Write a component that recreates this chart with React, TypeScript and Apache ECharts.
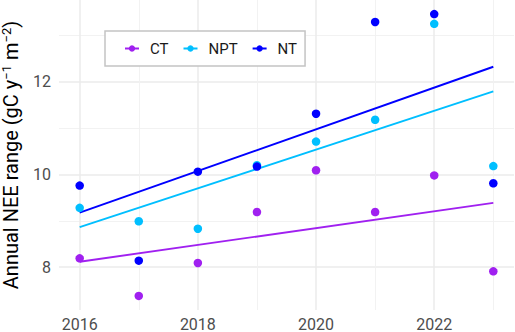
import React, { useEffect, useRef } from 'react';
import * as echarts from 'echarts';

const years = [2016, 2017, 2018, 2019, 2020, 2021, 2022, 2023];
const ctValues = [8.19, 7.38, 8.09, 9.19, 10.09, 9.19, 9.98, 7.91];
const nptValues = [9.28, 8.99, 8.83, 10.2, 10.71, 11.18, 13.25, 10.18];
const ntValues = [9.76, 8.14, 10.06, 10.17, 11.31, 13.29, 13.46, 9.81];
const seriesNames = ['CT', 'NPT', 'NT'];
const seriesColors = ['#A020F0', '#00BFFF', '#0000FF'];
const xMajorTicks = [2016, 2018, 2020, 2022];
const xMinorTicks = [2017, 2019, 2021, 2023];
const yMajorTicks = [8, 10, 12];
const yMinorTicks = [9, 11, 13];
const xLimits = [2015.65, 2023.35];
const yLimits = [7.076, 13.764];
const yTitle = 'Annual NEE range (gC y{sup|\u22121} m{sup|\u22122})';

function linearFit(xs: number[], ys: number[]): [number, number][] {
  const n = xs.length;
  const mx = xs.reduce((a, b) => a + b, 0) / n;
  const my = ys.reduce((a, b) => a + b, 0) / n;
  let sxy = 0;
  let sxx = 0;
  for (let i = 0; i < n; i++) {
    sxy += (xs[i] - mx) * (ys[i] - my);
    sxx += (xs[i] - mx) * (xs[i] - mx);
  }
  const slope = sxy / sxx;
  const x0 = xs[0];
  const x1 = xs[n - 1];
  return [
    [x0, my + slope * (x0 - mx)],
    [x1, my + slope * (x1 - mx)],
  ];
}

export default function App() {
  const ref = useRef<HTMLDivElement>(null);
  useEffect(() => {
    if (!ref.current) return;
    const chart = echarts.init(ref.current, null, { renderer: 'svg' });
    const allValues = [ctValues, nptValues, ntValues];
    const font = 'Roboto, "DejaVu Sans", sans-serif';
    const lineSeries = allValues.map((vals, i) => ({
      type: 'line',
      name: seriesNames[i],
      data: linearFit(years, vals),
      symbol: 'circle',
      symbolSize: 8,
      showSymbol: false,
      lineStyle: { color: seriesColors[i], width: 1.9 },
      itemStyle: { color: seriesColors[i] },
      z: 2,
      silent: true,
    }));
    const pointSeries = allValues.map((vals, i) => ({
      type: 'scatter',
      name: seriesNames[i],
      data: years.map((y, j) => [y, vals[j]]),
      symbol: 'circle',
      symbolSize: 8.5,
      itemStyle: { color: seriesColors[i], opacity: 1 },
      z: 3,
    }));
    const splitMajor = { show: true, lineStyle: { color: '#EBEBEB', width: 1.5 } };
    const splitMinor = { show: true, lineStyle: { color: '#F0F0F0', width: 0.9 } };
    chart.setOption({
      animation: false,
      backgroundColor: '#ffffff',
      grid: { left: 59, right: 1, top: 0, bottom: 22, containLabel: false, outerBoundsMode: 'none' },
      xAxis: [
        {
          type: 'value',
          min: xLimits[0],
          max: xLimits[1],
          axisLine: { show: false },
          axisTick: { show: false, customValues: xMajorTicks },
          axisLabel: {
            customValues: xMajorTicks,
            color: '#4D4D4D',
            fontSize: 16,
            lineHeight: 16,
            fontFamily: font,
            margin: 6,
            formatter: (v: number) => String(Math.round(v)),
          },
          splitLine: splitMajor,
        },
        {
          type: 'value',
          min: xLimits[0],
          max: xLimits[1],
          position: 'bottom',
          axisLine: { show: false },
          axisTick: { show: false, customValues: xMinorTicks },
          axisLabel: { show: false, customValues: xMinorTicks },
          splitLine: splitMinor,
        },
      ],
      yAxis: [
        {
          type: 'value',
          min: yLimits[0],
          max: yLimits[1],
          axisLine: { show: false },
          axisTick: { show: false, customValues: yMajorTicks },
          axisLabel: {
            customValues: yMajorTicks,
            color: '#4D4D4D',
            fontSize: 16,
            fontFamily: font,
            margin: 8,
            formatter: (v: number) => String(Math.round(v)),
          },
          splitLine: splitMajor,
          name: yTitle,
          nameLocation: 'middle',
          nameGap: 29,
          nameTextStyle: {
            color: '#000000',
            fontSize: 20,
            fontFamily: font,
            lineHeight: 22,
            rich: {
              sup: {
                fontSize: 13,
                fontFamily: font,
                color: '#000000',
                verticalAlign: 'top',
                lineHeight: 13,
              },
            },
          },
        },
        {
          type: 'value',
          min: yLimits[0],
          max: yLimits[1],
          position: 'left',
          axisLine: { show: false },
          axisTick: { show: false, customValues: yMinorTicks },
          axisLabel: { show: false, customValues: yMinorTicks },
          splitLine: splitMinor,
        },
      ],
      legend: {
        data: seriesNames,
        left: 105,
        top: 31,
        orient: 'horizontal',
        padding: [10, 8, 10, 19],
        itemGap: 14,
        itemWidth: 14,
        itemHeight: 8,
        borderColor: '#C4C4C4',
        borderWidth: 1.5,
        backgroundColor: '#FFFFFF',
        textStyle: { fontSize: 15, color: '#1A1A1A', fontFamily: font, padding: [0, 0, 0, 6] },
      },
      series: [...lineSeries, ...pointSeries],
    });
    return () => chart.dispose();
  }, []);
  return (
    <div
      ref={ref}
      style={{ position: 'fixed', left: 0, top: 0, width: 515, height: 332 }}
    />
  );
}
